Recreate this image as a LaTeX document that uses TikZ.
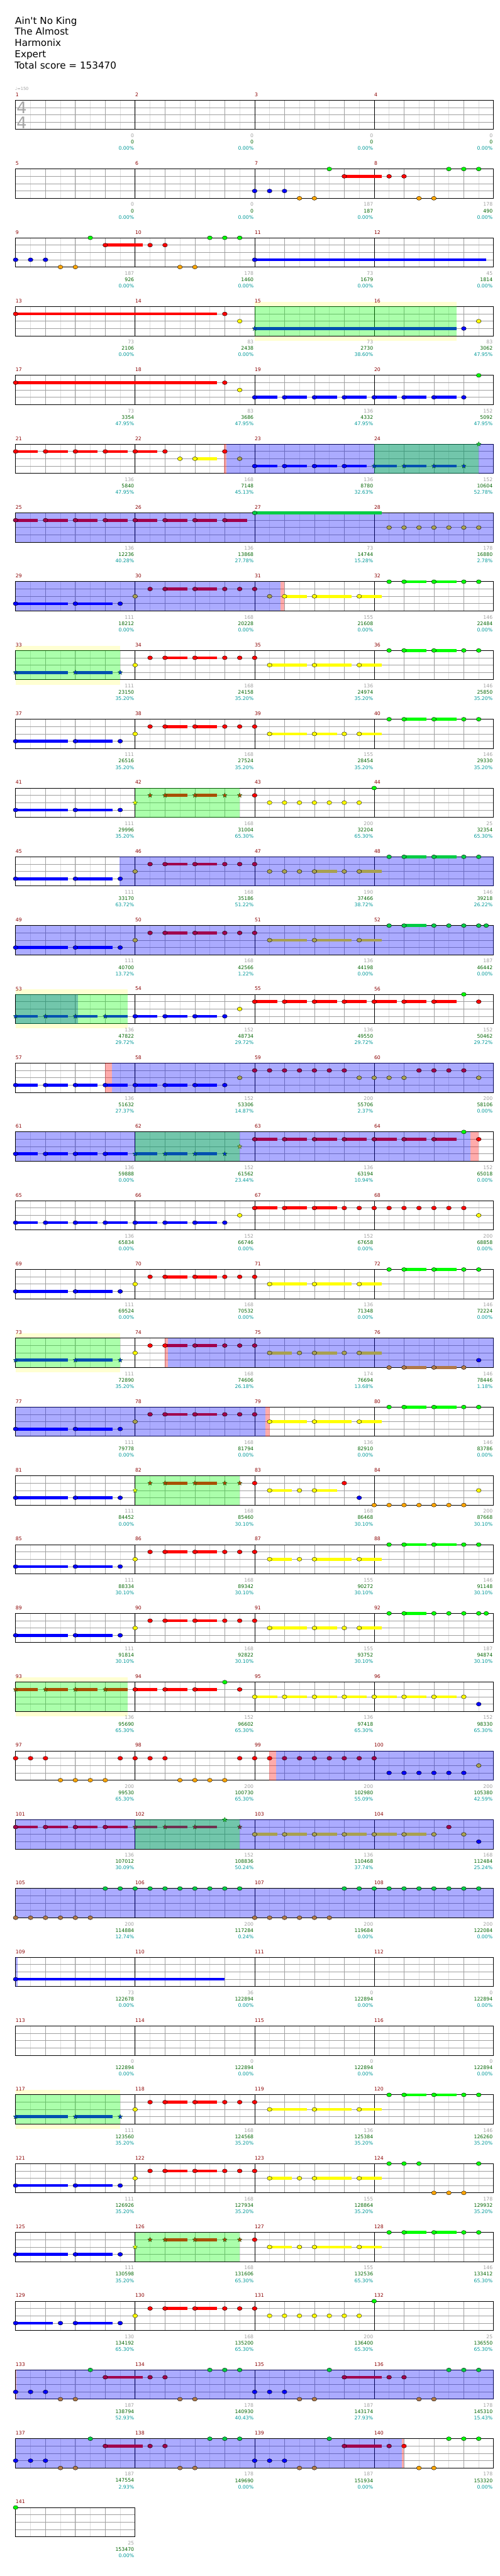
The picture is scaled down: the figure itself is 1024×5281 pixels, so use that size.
\documentclass[tikz,border=0pt]{standalone}
\usepackage{fontspec}
\usetikzlibrary{shapes.geometric}
\newfontfamily\chartfont{DejaVu Sans}
\definecolor{nG}{HTML}{00FF00}
\definecolor{nR}{HTML}{FF0000}
\definecolor{nY}{HTML}{FFFF00}
\definecolor{nB}{HTML}{0000FF}
\definecolor{nO}{HTML}{FFA500}
\definecolor{dG}{HTML}{00CC44}
\definecolor{dR}{HTML}{A0004C}
\definecolor{dY}{HTML}{A8A050}
\definecolor{dO}{HTML}{B07848}
\definecolor{phB}{HTML}{0050B0}
\definecolor{phR}{HTML}{A85000}
\definecolor{pdR}{HTML}{703050}
\definecolor{stB}{HTML}{0030D0}
\definecolor{stG}{HTML}{20C040}
\definecolor{stY}{HTML}{FFFF00}
\definecolor{stR}{HTML}{B04000}
\definecolor{stdR}{HTML}{802050}
\definecolor{measred}{HTML}{8B0000}
\definecolor{numgray}{HTML}{A0A0A0}
\definecolor{numgreen}{HTML}{006400}
\definecolor{numteal}{HTML}{009999}
\definecolor{halocol}{HTML}{FFFFD2}

% grid of one row, #1 = beats
\newcommand\lanegrid[1]{%
  \pgfmathsetmacro\gw{#1*61.25}%
  \pgfmathtruncatemacro\ne{2*#1-1}%
  \pgfmathtruncatemacro\nb{#1-1}%
  \fill[white] (0,0) rectangle (\gw,60);
  \foreach \i in {1,...,\ne} \draw[eighthline] (\i*30.625,0) -- (\i*30.625,60);
  \foreach \l in {15,30,45} \draw[laneline] (0,\l) -- (\gw,\l);
  \foreach \i in {1,...,\nb} \draw[beatline] (\i*61.25,0) -- (\i*61.25,60);
  \ifnum#1>4 \foreach \i in {4,8,12} \draw[barline] (\i*61.25,0) -- (\i*61.25,60);\fi
  \draw[border] (0,0) rectangle (\gw,60);
}
\newcommand\halobox[2]{\fill[halocol] (#1*61.25,-10) rectangle (#2*61.25,70);}
\newcommand\phrase[2]{\fill[green, fill opacity=0.33] (#1*61.25,0) rectangle (#2*61.25,60);}
\newcommand\spact[2]{\fill[blue, fill opacity=0.33] (#1*61.25,0) rectangle (#2*61.25,60);}
\newcommand\actline[2]{\fill[red, fill opacity=0.33] (#1*61.25,0) rectangle (#2*61.25,60);}
\newcommand\sustain[3]{\foreach \sa/\se in {#3}{\fill[#2] (\sa*61.25,#1*15-3) rectangle (\se*61.25,#1*15+3);}}
\newcommand\notes[3]{\foreach \nb in {#3}{\filldraw[notehead, fill=#2] (\nb*61.25,#1*15) ellipse [x radius=5, y radius=4];}}
\newcommand\stars[3]{\foreach \nb [count=\k] in {#3}{\node[starnote, fill=#2] (st\rw-#1-\k) at (\nb*61.25,#1*15) {};}}
% measure numbers and scores, #1 = first measure
\newcommand\scores[2]{%
  \foreach \ga/\gb/\gc [count=\i from 0] in {#2}{%
    \pgfmathtruncatemacro\mm{#1+\i}%
    \node[measnum] (m\mm) at (\i*245,-11.5) {\mm};
    \node[gnum] (g\mm) at (\i*245+243,72.7) {\ga};
    \node[snum] (s\mm) at (\i*245+243,85.7) {\gb};
    \node[pnum] (p\mm) at (\i*245+243,98.7) {\gc\%};
  }}

\begin{document}
\begin{tikzpicture}[x=1pt, y=-1pt,
  row/.style={shift={(32,{205.5+141*(#1-1)})}, /utils/exec={\def\rw{#1}}},
  eighthline/.style={draw=black!13, line width=0.8pt},
  laneline/.style={draw=numgray, line width=0.9pt},
  beatline/.style={draw=numgray, line width=0.9pt},
  barline/.style={draw=black, line width=0.9pt},
  border/.style={draw=black, line width=1.2pt},
  notehead/.style={draw=black, line width=0.5pt},
  starnote/.style={star, star points=5, star point ratio=2.2, minimum size=10pt, inner sep=0pt, draw=black!60!green, line width=0.4pt},
  measnum/.style={anchor=west, inner sep=0pt, text=measred, font=\chartfont\fontsize{10}{10}\selectfont},
  gnum/.style={anchor=east, inner sep=0pt, text=numgray, font=\chartfont\fontsize{10}{10}\selectfont},
  snum/.style={anchor=east, inner sep=0pt, text=numgreen, font=\chartfont\fontsize{10}{10}\selectfont},
  pnum/.style={anchor=east, inner sep=0pt, text=numteal, font=\chartfont\fontsize{10}{10}\selectfont},
  title/.style={anchor=base west, inner sep=0pt, font=\chartfont\fontsize{19.6}{20}\selectfont},
  tsig/.style={inner sep=0pt, text=black!35, font=\chartfont\fontsize{33}{33}\selectfont}
]
\fill[white] (0,0) rectangle (1024,5281);
\useasboundingbox (0,0) rectangle (1024,5281);

% header
\node[title] (song) at (31,49.3) {Ain\textquotesingle t No King};
\node[title] (artist) at (30,72) {The Almost};
\node[title] (charter) at (30,95) {Harmonix};
\node[title] (level) at (30,118) {Expert};
\node[title] (total) at (30,141.5) {Total score = 153470};
\node[anchor=base west, inner sep=0pt, text=numgray, font=\chartfont\fontsize{8.5}{9}\selectfont] (tempo) at (31,185) {♩=150};

% 1-4
\begin{scope}[row=1]
  \lanegrid{16}
  \node[tsig] (ts1) at (12.5,15.3) {4};
  \node[tsig] (ts2) at (12.5,45.7) {4};
  \scores{1}{0/0/0.00,0/0/0.00,0/0/0.00,0/0/0.00}
\end{scope}

% 5-8
\begin{scope}[row=2]
  \lanegrid{16}
  \sustain{1}{nR}{11/12.25}
  \notes{3}{nB}{8,8.5,9}
  \notes{4}{nO}{9.5,10,13.5,14}
  \notes{0}{nG}{10.5,14.5,15,15.5}
  \notes{1}{nR}{11,12.5,13}
  \scores{5}{0/0/0.00,0/0/0.00,187/187/0.00,178/490/0.00}
\end{scope}

% 9-12
\begin{scope}[row=3]
  \lanegrid{16}
  \sustain{1}{nR}{3/4.25}
  \sustain{3}{nB}{8/15.75}
  \notes{3}{nB}{0,0.5,1,8}
  \notes{4}{nO}{1.5,2,5.5,6}
  \notes{0}{nG}{2.5,6.5,7,7.5}
  \notes{1}{nR}{3,4.5,5}
  \scores{9}{187/926/0.00,178/1460/0.00,73/1679/0.00,45/1814/0.00}
\end{scope}

% 13-16
\begin{scope}[row=4]
  \halobox{8}{14.75}
  \lanegrid{16}
  \phrase{8}{14.75}
  \sustain{1}{nR}{0/6.75}
  \sustain{3}{phB}{8/14.75}
  \notes{1}{nR}{0,7}
  \notes{2}{nY}{7.5,15.5}
  \stars{3}{stB}{8}
  \notes{3}{nB}{15}
  \scores{13}{73/2106/0.00,83/2438/0.00,73/2730/38.60,83/3062/47.95}
\end{scope}

% 17-20
\begin{scope}[row=5]
  \lanegrid{16}
  \sustain{1}{nR}{0/6.75}
  \sustain{3}{nB}{8/8.75,9/9.75,10/10.75,11/11.75,12/12.75,13/13.75,14/14.75}
  \notes{1}{nR}{0,7}
  \notes{2}{nY}{7.5}
  \notes{3}{nB}{8,9,10,11,12,13,14,15}
  \notes{0}{nG}{15.5}
  \scores{17}{73/3354/47.95,83/3686/47.95,136/4332/47.95,152/5092/47.95}
\end{scope}

% 21-24
\begin{scope}[row=6]
  \lanegrid{16}
  \actline{6.98}{7.06}
  \spact{7.06}{16}
  \phrase{12}{15.5}
  \sustain{1}{nR}{0/0.75,1/1.75,2/2.75,3/3.75,4/4.75}
  \sustain{2}{nY}{6/6.75}
  \sustain{3}{nB}{8/8.75,9/9.75,10/10.75,11/11.75}
  \sustain{3}{phB}{12/12.75,13/13.75,14/14.75}
  \notes{1}{nR}{0,1,2,3,4,5,7}
  \notes{2}{nY}{5.5,6}
  \notes{2}{dY}{7.5}
  \notes{3}{nB}{8,9,10,11}
  \stars{3}{stB}{12,13,14,15}
  \stars{0}{stG}{15.5}
  \scores{21}{136/5840/47.95,168/7148/45.13,136/8780/32.63,152/10604/52.78}
\end{scope}

% 25-28
\begin{scope}[row=7]
  \lanegrid{16}
  \spact{0}{16}
  \sustain{1}{dR}{0/0.75,1/1.75,2/2.75,3/3.75,4/4.75,5/5.75,6/6.75,7/7.75}
  \sustain{0}{dG}{8/12.25}
  \notes{1}{dR}{0,1,2,3,4,5,6,7}
  \notes{0}{dG}{8}
  \notes{2}{dY}{12.5,13,13.5,14,14.5,15,15.5}
  \scores{25}{136/12236/40.28,136/13868/27.78,73/14744/15.28,178/16880/2.78}
\end{scope}

% 29-32
\begin{scope}[row=8]
  \lanegrid{16}
  \spact{0}{8.87}
  \actline{8.87}{9.0}
  \sustain{3}{nB}{0/1.75,2/3.25}
  \sustain{1}{dR}{5/5.75,6/6.75}
  \sustain{2}{nY}{9/9.75,10/11.25,11.5/12.25}
  \sustain{0}{nG}{13/13.75,14/14.75}
  \notes{3}{nB}{0,2,3.5}
  \notes{2}{dY}{4,8.5}
  \notes{1}{dR}{4.5,5,6,7,7.5,8}
  \notes{2}{nY}{9,10,11.5}
  \notes{0}{nG}{12.5,13,14,15,15.5}
  \scores{29}{111/18212/0.00,168/20228/0.00,155/21608/0.00,146/22484/0.00}
\end{scope}

% 33-36
\begin{scope}[row=9]
  \halobox{0}{3.5}
  \lanegrid{16}
  \phrase{0}{3.5}
  \sustain{3}{phB}{0/1.75,2/3.25}
  \sustain{1}{nR}{5/5.75,6/6.75}
  \sustain{2}{nY}{8.5/9.75,10/11.25,11.5/12.25}
  \sustain{0}{nG}{13/13.75,14/14.75}
  \stars{3}{stB}{0,2,3.5}
  \notes{2}{nY}{4,8.5,10,11.5}
  \notes{1}{nR}{4.5,5,6,7,7.5,8}
  \notes{0}{nG}{12.5,13,14,15,15.5}
  \scores{33}{111/23150/35.20,168/24158/35.20,136/24974/35.20,146/25850/35.20}
\end{scope}

% 37-40
\begin{scope}[row=10]
  \lanegrid{16}
  \sustain{3}{nB}{0/1.75,2/3.25}
  \sustain{1}{nR}{5/5.75,6/6.75}
  \sustain{2}{nY}{8.5/9.75,10/10.75,11.5/12.25}
  \sustain{0}{nG}{13/13.75,14/14.75}
  \notes{3}{nB}{0,2,3.5}
  \notes{2}{nY}{4,8.5,10,11,11.5}
  \notes{1}{nR}{4.5,5,6,7,7.5,8}
  \notes{0}{nG}{12.5,13,14,15,15.5}
  \scores{37}{111/26516/35.20,168/27524/35.20,155/28454/35.20,146/29330/35.20}
\end{scope}

% 41-44
\begin{scope}[row=11]
  \lanegrid{16}
  \phrase{4}{7.5}
  \sustain{3}{nB}{0/1.75,2/3.25}
  \sustain{1}{phR}{5/5.75,6/6.75}
  \notes{3}{nB}{0,2,3.5}
  \stars{2}{stY}{4}
  \stars{1}{stR}{4.5,5,6,7,7.5}
  \notes{1}{nR}{8}
  \notes{2}{nY}{8.5,9,9.5,10,10.5,11,11.5}
  \notes{0}{nG}{12}
  \scores{41}{111/29996/35.20,168/31004/65.30,200/32204/65.30,25/32354/65.30}
\end{scope}

% 45-48
\begin{scope}[row=12]
  \lanegrid{16}
  \spact{3.47}{16}
  \sustain{3}{nB}{0/1.75,2/3.25}
  \sustain{1}{dR}{5/5.75,6/6.75}
  \sustain{2}{dY}{10/10.75,11.5/12.25}
  \sustain{0}{dG}{13/13.75,14/14.75}
  \notes{3}{nB}{0,2,3.5}
  \notes{2}{dY}{4,8.5,9,9.5,10,11,11.5}
  \notes{1}{dR}{4.5,5,6,7,7.5,8}
  \notes{0}{dG}{12.5,13,14,15,15.5}
  \scores{45}{111/33170/63.72,168/35186/51.22,190/37466/38.72,146/39218/26.22}
\end{scope}

% 49-52
\begin{scope}[row=13]
  \lanegrid{16}
  \spact{0}{16}
  \sustain{3}{nB}{0/1.75,2/3.25}
  \sustain{1}{dR}{5/5.75,6/6.75}
  \sustain{2}{dY}{8.5/9.75,10/11.25,11.5/12.25}
  \sustain{0}{dG}{13/13.75}
  \notes{3}{nB}{0,2,3.5}
  \notes{2}{dY}{4,8.5,10,11.5}
  \notes{1}{dR}{4.5,5,6,7,7.5,8}
  \notes{0}{dG}{12.5,13,14,14.5,15,15.5,15.75}
  \scores{49}{111/40700/13.72,168/42566/1.22,136/44198/0.00,187/46442/0.00}
\end{scope}

% 53-56
\begin{scope}[row=14]
  \halobox{0}{3.75}
  \lanegrid{16}
  \spact{0}{2.09}
  \phrase{0}{3.75}
  \sustain{3}{phB}{0/0.75,1/1.75,2/2.75,3/3.75}
  \sustain{3}{nB}{4/4.75,5/5.75,6/6.75}
  \sustain{1}{nR}{8/8.75,9/9.75,10/10.75,11/11.75,12/12.75,13/13.75,14/14.75}
  \stars{3}{stB}{0,1,2,3}
  \notes{3}{nB}{4,5,6,7}
  \notes{2}{nY}{7.5}
  \notes{1}{nR}{8,9,10,11,12,13,14,15.5}
  \notes{0}{nG}{15}
  \scores{53}{136/47822/29.72,152/48734/29.72,136/49550/29.72,152/50462/29.72}
\end{scope}

% 57-60
\begin{scope}[row=15]
  \lanegrid{16}
  \actline{3}{3.23}
  \spact{3.23}{16}
  \sustain{3}{nB}{0/0.75,1/1.75,2/2.75,3/3.75,4/4.75,5/5.75,6/6.75}
  \notes{3}{nB}{0,1,2,3,4,5,6,7}
  \notes{2}{dY}{7.5,11.5,12,12.5,13,15.5}
  \notes{1}{dR}{8,8.5,9,9.5,10,10.5,11,13.5,14,14.5,15}
  \scores{57}{136/51632/27.37,152/53306/14.87,200/55706/2.37,200/58106/0.00}
\end{scope}

% 61-64
\begin{scope}[row=16]
  \lanegrid{16}
  \spact{0}{15.23}
  \actline{15.23}{15.5}
  \phrase{4}{7.5}
  \sustain{3}{nB}{0/0.75,1/1.75,2/2.75,3/3.75}
  \sustain{3}{phB}{4/4.75,5/5.75,6/6.75}
  \sustain{1}{dR}{8/8.75,9/9.75,10/10.75,11/11.75,12/12.75,13/13.75,14/14.75}
  \notes{3}{nB}{0,1,2,3}
  \stars{3}{stB}{4,5,6,7}
  \stars{2}{dY}{7.5}
  \notes{1}{dR}{8,9,10,11,12,13,14}
  \notes{0}{nG}{15}
  \notes{1}{nR}{15.5}
  \scores{61}{136/59888/0.00,152/61562/23.44,136/63194/10.94,152/65018/0.00}
\end{scope}

% 65-68
\begin{scope}[row=17]
  \lanegrid{16}
  \sustain{3}{nB}{0/0.75,1/1.75,2/2.75,3/3.75,4/4.75,5/5.75,6/6.75}
  \sustain{1}{nR}{8/8.75,9/9.75,10/10.75}
  \notes{3}{nB}{0,1,2,3,4,5,6,7}
  \notes{2}{nY}{7.5,15.5}
  \notes{1}{nR}{8,9,10,11,11.5,12,12.5,13,13.5,14,14.5,15}
  \scores{65}{136/65834/0.00,152/66746/0.00,152/67658/0.00,200/68858/0.00}
\end{scope}

% 69-72
\begin{scope}[row=18]
  \lanegrid{16}
  \sustain{3}{nB}{0/1.75,2/3.25}
  \sustain{1}{nR}{5/5.75,6/6.75}
  \sustain{2}{nY}{8.5/9.75,10/11.25,11.5/12.25}
  \sustain{0}{nG}{13/13.75,14/14.75}
  \notes{3}{nB}{0,2,3.5}
  \notes{2}{nY}{4,8.5,10,11.5}
  \notes{1}{nR}{4.5,5,6,7,7.5,8}
  \notes{0}{nG}{12.5,13,14,15,15.5}
  \scores{69}{111/69524/0.00,168/70532/0.00,136/71348/0.00,146/72224/0.00}
\end{scope}

% 73-76
\begin{scope}[row=19]
  \halobox{0}{3.5}
  \lanegrid{16}
  \phrase{0}{3.5}
  \actline{4.99}{5.09}
  \spact{5.09}{16}
  \sustain{3}{phB}{0/1.75,2/3.25}
  \sustain{1}{dR}{5/5.75,6/6.75}
  \sustain{2}{dY}{8.5/9.25,10/10.75,11.5/12.25}
  \sustain{4}{dO}{13/13.75,14/14.75}
  \stars{3}{stB}{0,2,3.5}
  \notes{2}{nY}{4}
  \notes{1}{nR}{4.5,5}
  \notes{1}{dR}{6,7,7.5,8}
  \notes{2}{dY}{8.5,9.5,10,11,11.5}
  \notes{4}{dO}{12.5,13,14,15}
  \notes{3}{nB}{15.5}
  \scores{73}{111/72890/35.20,168/74606/26.18,174/76694/13.68,146/78446/1.18}
\end{scope}

% 77-80
\begin{scope}[row=20]
  \lanegrid{16}
  \spact{0}{8.35}
  \actline{8.35}{8.5}
  \sustain{3}{nB}{0/1.75,2/3.25}
  \sustain{1}{dR}{5/5.75,6/6.75}
  \sustain{2}{nY}{8.5/9.75,10/11.25,11.5/12.25}
  \sustain{0}{nG}{13/13.75,14/14.75}
  \notes{3}{nB}{0,2,3.5}
  \notes{2}{dY}{4}
  \notes{1}{dR}{4.5,5,6,7,7.5,8}
  \notes{2}{nY}{8.5,10,11.5}
  \notes{0}{nG}{12.5,13,14,15,15.5}
  \scores{77}{111/79778/0.00,168/81794/0.00,136/82910/0.00,146/83786/0.00}
\end{scope}

% 81-84
\begin{scope}[row=21]
  \lanegrid{16}
  \phrase{4}{7.5}
  \sustain{3}{nB}{0/1.75,2/3.25}
  \sustain{1}{phR}{5/5.75,6/6.75}
  \sustain{2}{nY}{8.5/9.25,10/10.75}
  \notes{3}{nB}{0,2,3.5,11.5}
  \stars{2}{stY}{4}
  \stars{1}{stR}{4.5,5,6,7,7.5}
  \notes{1}{nR}{8,11}
  \notes{2}{nY}{8.5,9.5,10,15.5}
  \notes{4}{nO}{12,12.5,13,13.5,14,14.5,15}
  \scores{81}{111/84452/0.00,168/85460/30.10,168/86468/30.10,200/87668/30.10}
\end{scope}

% 85-88
\begin{scope}[row=22]
  \lanegrid{16}
  \sustain{3}{nB}{0/1.75,2/3.25}
  \sustain{1}{nR}{5/5.75,6/6.75}
  \sustain{2}{nY}{8.5/9.25,10/11.25,11.5/12.25}
  \sustain{0}{nG}{13/13.75,14/14.75}
  \notes{3}{nB}{0,2,3.5}
  \notes{2}{nY}{4,8.5,9.5,10,11.5}
  \notes{1}{nR}{4.5,5,6,7,7.5,8}
  \notes{0}{nG}{12.5,13,14,15,15.5}
  \scores{85}{111/88334/30.10,168/89342/30.10,155/90272/30.10,146/91148/30.10}
\end{scope}

% 89-92
\begin{scope}[row=23]
  \lanegrid{16}
  \sustain{3}{nB}{0/1.75,2/3.25}
  \sustain{1}{nR}{5/5.75,6/6.75}
  \sustain{2}{nY}{8.5/9.75,10/10.75,11.5/12.25}
  \sustain{0}{nG}{13/13.75}
  \notes{3}{nB}{0,2,3.5}
  \notes{2}{nY}{4,8.5,10,11,11.5}
  \notes{1}{nR}{4.5,5,6,7,7.5,8}
  \notes{0}{nG}{12.5,13,14,14.5,15,15.5,15.75}
  \scores{89}{111/91814/30.10,168/92822/30.10,155/93752/30.10,187/94874/30.10}
\end{scope}

% 93-96
\begin{scope}[row=24]
  \halobox{0}{3.75}
  \lanegrid{16}
  \phrase{0}{3.75}
  \sustain{1}{phR}{0/0.75,1/1.75,2/2.75,3/3.75}
  \sustain{1}{nR}{4/4.75,5/5.75,6/6.75}
  \sustain{2}{nY}{8/8.75,9/9.75,10/10.75,11/11.75,12/12.75,13/13.75,14/14.75}
  \stars{1}{stR}{0,1,2,3}
  \notes{1}{nR}{4,5,6,7.5}
  \notes{0}{nG}{7}
  \notes{2}{nY}{8,9,10,11,12,13,14,15}
  \notes{3}{nB}{15.5}
  \scores{93}{136/95690/65.30,152/96602/65.30,136/97418/65.30,152/98330/65.30}
\end{scope}

% 97-100
\begin{scope}[row=25]
  \lanegrid{16}
  \actline{8.49}{8.71}
  \spact{8.71}{16}
  \notes{1}{nR}{0,0.5,1,3.5,4,4.5,5,7.5,8,8.5}
  \notes{4}{nO}{1.5,2,2.5,3,5.5,6,6.5,7}
  \notes{1}{dR}{9,9.5,10,10.5,11,11.5,12}
  \notes{3}{nB}{12.5,13,13.5,14,14.5,15}
  \notes{2}{dY}{15.5}
  \scores{97}{200/99530/65.30,200/100730/65.30,200/102980/55.09,200/105380/42.59}
\end{scope}

% 101-104
\begin{scope}[row=26]
  \lanegrid{16}
  \spact{0}{16}
  \phrase{4}{7.5}
  \sustain{1}{dR}{0/0.75,1/1.75,2/2.75,3/3.75}
  \sustain{1}{pdR}{4/4.75,5/5.75,6/6.75}
  \sustain{2}{dY}{8/8.75,9/9.75,10/10.75,11/11.75,12/12.75,13/13.75}
  \notes{1}{dR}{0,1,2,3,14.5}
  \stars{1}{stdR}{4,5,6,7.5}
  \stars{0}{stG}{7}
  \notes{2}{dY}{8,9,10,11,12,13,14,15}
  \notes{3}{nB}{15.5}
  \scores{101}{136/107012/30.09,152/108836/50.24,136/110468/37.74,168/112484/25.24}
\end{scope}

% 105-108
\begin{scope}[row=27]
  \lanegrid{16}
  \spact{0}{16}
  \notes{4}{dO}{0,0.5,1,1.5,2,2.5,8,8.5,9,9.5,10,10.5}
  \notes{0}{dG}{3,3.5,4,4.5,5,5.5,6,6.5,7,7.5,11,11.5,12,12.5,13,13.5,14,14.5,15,15.5}
  \scores{105}{200/114884/12.74,200/117284/0.24,200/119684/0.00,200/122084/0.00}
\end{scope}

% 109-112
\begin{scope}[row=28]
  \lanegrid{16}
  \spact{0}{0.06}
  \sustain{3}{nB}{0/7}
  \notes{3}{nB}{0}
  \scores{109}{73/122678/0.00,36/122894/0.00,0/122894/0.00,0/122894/0.00}
\end{scope}

% 113-116
\begin{scope}[row=29]
  \lanegrid{16}
  \scores{113}{0/122894/0.00,0/122894/0.00,0/122894/0.00,0/122894/0.00}
\end{scope}

% 117-120
\begin{scope}[row=30]
  \halobox{0}{3.5}
  \lanegrid{16}
  \phrase{0}{3.5}
  \sustain{3}{phB}{0/1.75,2/3.25}
  \sustain{1}{nR}{5/5.75,6/6.75}
  \sustain{2}{nY}{8.5/9.75,10/11.25,11.5/12.25}
  \sustain{0}{nG}{13/13.75,14/14.75}
  \stars{3}{stB}{0,2,3.5}
  \notes{2}{nY}{4,8.5,10,11.5}
  \notes{1}{nR}{4.5,5,6,7,7.5,8}
  \notes{0}{nG}{12.5,13,14,15,15.5}
  \scores{117}{111/123560/35.20,168/124568/35.20,136/125384/35.20,146/126260/35.20}
\end{scope}

% 121-124
\begin{scope}[row=31]
  \lanegrid{16}
  \sustain{3}{nB}{0/1.75,2/3.25}
  \sustain{1}{nR}{5/5.75,6/6.75}
  \sustain{2}{nY}{8.5/9.25,10/11.25,11.5/12.25}
  \notes{3}{nB}{0,2,3.5}
  \notes{2}{nY}{4,8.5,9.5,10,11.5}
  \notes{1}{nR}{4.5,5,6,7,7.5,8}
  \notes{0}{nG}{12.5,13,13.5,15.5}
  \notes{4}{nO}{14,14.5,15}
  \scores{121}{111/126926/35.20,168/127934/35.20,155/128864/35.20,178/129932/35.20}
\end{scope}

% 125-128
\begin{scope}[row=32]
  \lanegrid{16}
  \phrase{4}{7.5}
  \sustain{3}{nB}{0/1.75,2/3.25}
  \sustain{1}{phR}{5/5.75,6/6.75}
  \sustain{2}{nY}{8.5/9.25,10/11.25,11.5/12.25}
  \sustain{0}{nG}{13/13.75,14/14.75}
  \notes{3}{nB}{0,2,3.5}
  \stars{2}{stY}{4}
  \stars{1}{stR}{4.5,5,6,7,7.5}
  \notes{1}{nR}{8}
  \notes{2}{nY}{8.5,9.5,10,11.5}
  \notes{0}{nG}{12.5,13,14,15,15.5}
  \scores{125}{111/130598/35.20,168/131606/65.30,155/132536/65.30,146/133412/65.30}
\end{scope}

% 129-132
\begin{scope}[row=33]
  \lanegrid{16}
  \sustain{3}{nB}{0/1.25,2/3.25}
  \sustain{1}{nR}{5/5.75,6/6.75}
  \notes{3}{nB}{0,1.5,2,3.5}
  \notes{2}{nY}{4,8.5,9,9.5,10,10.5,11,11.5}
  \notes{1}{nR}{4.5,5,6,7,7.5,8}
  \notes{0}{nG}{12}
  \scores{129}{130/134192/65.30,168/135200/65.30,200/136400/65.30,25/136550/65.30}
\end{scope}

% 133-136
\begin{scope}[row=34]
  \lanegrid{16}
  \actline{0}{0.03}
  \spact{0.03}{16}
  \sustain{1}{dR}{3/4.25,11/12.25}
  \notes{3}{nB}{0,0.5,1,8,8.5,9}
  \notes{4}{dO}{1.5,2,5.5,6,9.5,10,13.5,14}
  \notes{0}{dG}{2.5,6.5,7,7.5,10.5,14.5,15,15.5}
  \notes{1}{dR}{3,4.5,5,11,12.5,13}
  \scores{133}{187/138794/52.93,178/140930/40.43,187/143174/27.93,178/145310/15.43}
\end{scope}

% 137-140
\begin{scope}[row=35]
  \lanegrid{16}
  \spact{0}{12.93}
  \actline{12.93}{13.0}
  \sustain{1}{dR}{3/4.25,11/12.25}
  \notes{3}{nB}{0,0.5,1,8,8.5,9}
  \notes{4}{dO}{1.5,2,5.5,6,9.5,10}
  \notes{4}{nO}{13.5,14}
  \notes{0}{dG}{2.5,6.5,7,7.5,10.5}
  \notes{0}{nG}{14.5,15,15.5}
  \notes{1}{dR}{3,4.5,5,11,12.5}
  \notes{1}{nR}{13}
  \scores{137}{187/147554/2.93,178/149690/0.00,187/151934/0.00,178/153320/0.00}
\end{scope}

% 141
\begin{scope}[row=36]
  \lanegrid{4}
  \notes{0}{nG}{0}
  \scores{141}{25/153470/0.00}
\end{scope}
\end{tikzpicture}
\end{document}
